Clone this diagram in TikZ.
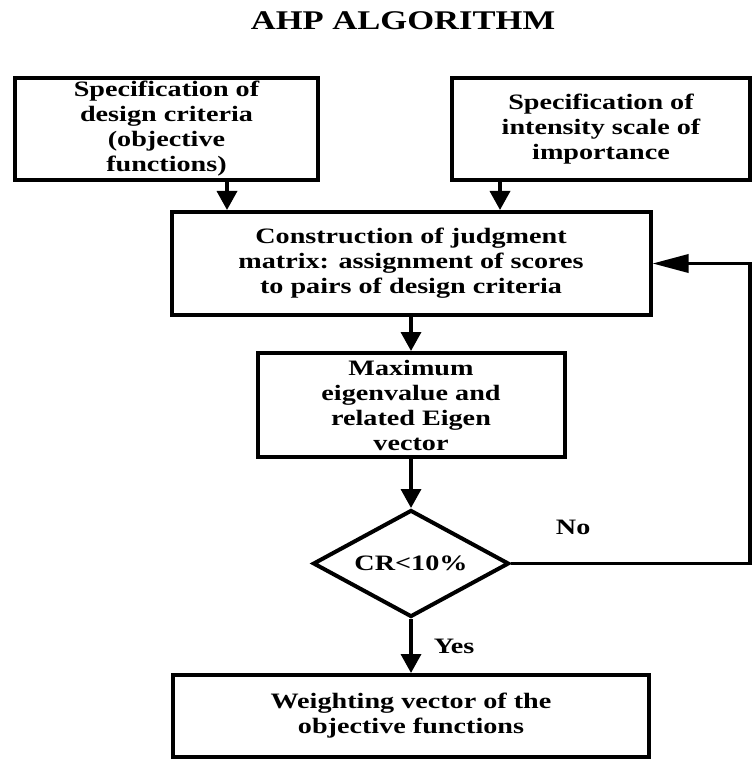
\documentclass[tikz,border=0pt]{standalone}
\usepackage{fontspec}
\setmainfont{Liberation Serif}[FakeStretch=1.28]
\usetikzlibrary{shapes.geometric,arrows.meta}
\newcommand{\boxfont}{\fontsize{22}{25}\selectfont\bfseries}
\tikzset{
  >={Triangle[length=19pt,width=20pt]},
  block/.style={draw, rectangle, line width=4pt, align=center, inner sep=0pt, font=\boxfont},
  decision/.style={draw, diamond, aspect=1.8, line width=4pt, inner sep=0pt, font=\boxfont},
  flow/.style={->, line width=3.5pt},
  answer/.style={inner sep=0pt, font=\boxfont},
}

\begin{document}
\begin{tikzpicture}[x=1pt, y=-1pt]
    \useasboundingbox (0,0) rectangle (753,759);
    % Title
    \node[font=\fontsize{27}{30}\selectfont\bfseries] (title) at (403,21) {AHP ALGORITHM};
    % Inputs
    \node[block, minimum width=303pt, minimum height=102pt] (crit)  at (166.5,129) {Specification of\\design criteria\\(objective\\functions)};
    \node[block, minimum width=298pt, minimum height=102pt] (scale) at (601,129)   {Specification of\\intensity scale of\\importance};
    % Main chain
    \node[block, minimum width=479pt, minimum height=103pt] (judge)  at (411,263.5) {Construction of judgment\\matrix: assignment of scores\\to pairs of design criteria};
    \node[block, minimum width=307pt, minimum height=104pt] (eigen)  at (411,405)   {Maximum\\eigenvalue and\\related Eigen\\vector};
    \node[decision, minimum width=196pt, minimum height=107pt] (cr)  at (411,563.5) {CR<10\%};
    \node[block, minimum width=476pt, minimum height=82pt]  (weight) at (411,716)   {Weighting vector of the\\objective functions};
    \coordinate (c1) at ([xshift=60.5pt]crit.south);
    \coordinate (c2) at ([xshift=-101pt]scale.south);
    \coordinate (back) at (750,0);
    \draw[flow] (c1) -- (c1 |- judge.north);
    \draw[flow] (c2) -- (c2 |- judge.north);
    \draw[flow] (judge) -- (eigen);
    \draw[flow] (eigen) -- (cr);
    \draw[flow] (cr) -- node[answer, right=21pt] {Yes} (weight);
    \draw[flow, -{Triangle[length=36pt,width=18pt]}] (cr.east) -- node[answer, above=27pt, pos=0.26] {No} (cr.east -| back) |- (judge.east);
\end{tikzpicture}
\end{document}
